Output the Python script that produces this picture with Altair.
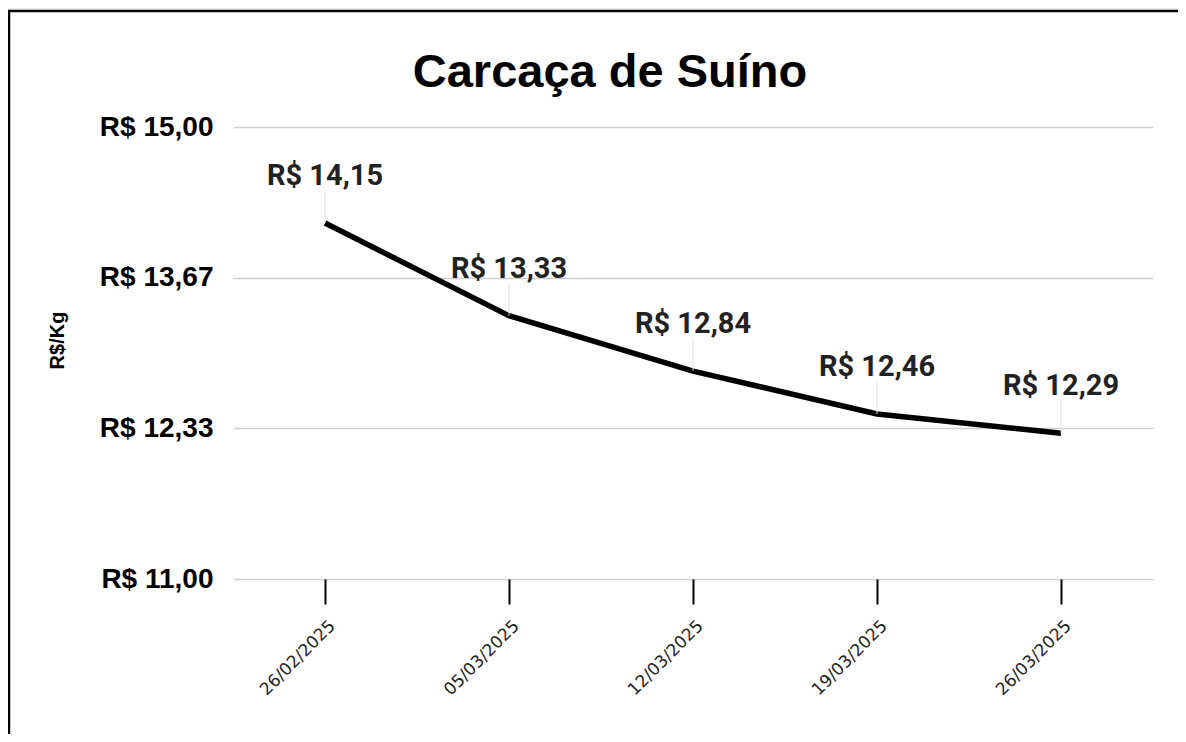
import altair as alt
import pandas as pd

# ---- data ----
datas = ["26/02/2025", "05/03/2025", "12/03/2025", "19/03/2025", "26/03/2025"]
precos = [14.15, 13.33, 12.84, 12.46, 12.29]
y_ticks = [11.0, 12.3333, 13.6667, 15.0]
titulo = "Carcaça de Suíno"
titulo_y = "R$/Kg"

df = pd.DataFrame({"data": datas, "preco": precos})
df["rotulo"] = ["R$ " + f"{v:.2f}".replace(".", ",") for v in precos]
deco = pd.DataFrame({"k": [0]})

x_enc = alt.X(
    "data:O",
    sort=datas,
    scale=alt.Scale(type="point", padding=0.5),
    axis=alt.Axis(
        title=None,
        labelAngle=-45,
        labelAlign="right",
        labelBaseline="middle",
        labelFont="DejaVu Sans",
        labelFontSize=17,
        labelColor="#222222",
        labelPadding=19,
        labelOffset=7,
        tickColor="black",
        tickSize=25,
        tickWidth=2,
        domain=False,
        grid=False,
    ),
)

y_enc = alt.Y(
    "preco:Q",
    scale=alt.Scale(domain=[11, 15], nice=False, zero=False),
    axis=alt.Axis(
        values=y_ticks,
        labelExpr="'R$ ' + replace(format(datum.value, '.2f'), '.', ',')",
        labelFont="Liberation Sans",
        labelFontWeight="bold",
        labelFontSize=28,
        labelColor="black",
        labelPadding=20,
        ticks=False,
        domain=False,
        grid=True,
        gridColor="#cfcfcf",
        gridWidth=1.5,
        title=titulo_y,
        titleFont="Liberation Sans",
        titleFontWeight="bold",
        titleFontSize=20,
        titleColor="black",
        titleAngle=270,
        titleAlign="center",
        titleBaseline="middle",
        titleX=-176,
        titleY=213,
    ),
)

base = alt.Chart(df)

linha = base.mark_line(color="black", strokeWidth=5.5).encode(x=x_enc, y=y_enc)

guias = base.transform_calculate(topo="datum.preco + 0.29").mark_rule(
    color="#e2e2e2", strokeWidth=1
).encode(x=alt.X("data:O", sort=datas), y="preco:Q", y2="topo:Q")

rotulos = base.mark_text(
    font="Roboto",
    fontSize=29,
    fontWeight="bold",
    color="#222222",
    baseline="alphabetic",
    dy=-38,
).encode(x=alt.X("data:O", sort=datas), y="preco:Q", text="rotulo:N")

# frame decoration (page border of the original screenshot)
faixa = alt.Chart(deco).mark_rect(color="#f2f1f4").encode(
    x=alt.value(-225), x2=alt.value(950), y=alt.value(-119), y2=alt.value(-117)
)
borda_topo = alt.Chart(deco).mark_rule(color="black", strokeWidth=2.5).encode(
    x=alt.value(-225), x2=alt.value(950), y=alt.value(-116)
)
borda_esq = alt.Chart(deco).mark_rule(color="black", strokeWidth=2.5).encode(
    x=alt.value(-224), y=alt.value(-117), y2=alt.value(620)
)

chart = (
    alt.layer(linha, guias, rotulos, faixa, borda_topo, borda_esq)
    .properties(
        width=920,
        height=452,
        padding={"left": 225, "top": 119, "right": 25, "bottom": 155},
        autosize=alt.AutoSizeParams(type="none"),
        background="white",
        title=alt.TitleParams(
            titulo,
            font="Liberation Sans",
            fontSize=47,
            fontWeight="bold",
            color="black",
            anchor="middle",
            frame="group",
            dx=-83,
            baseline="alphabetic",
            offset=-126,
        ),
    )
    .configure_view(stroke=None)
)

chart.save("out.html", embed_options={"renderer": "svg", "actions": False})
